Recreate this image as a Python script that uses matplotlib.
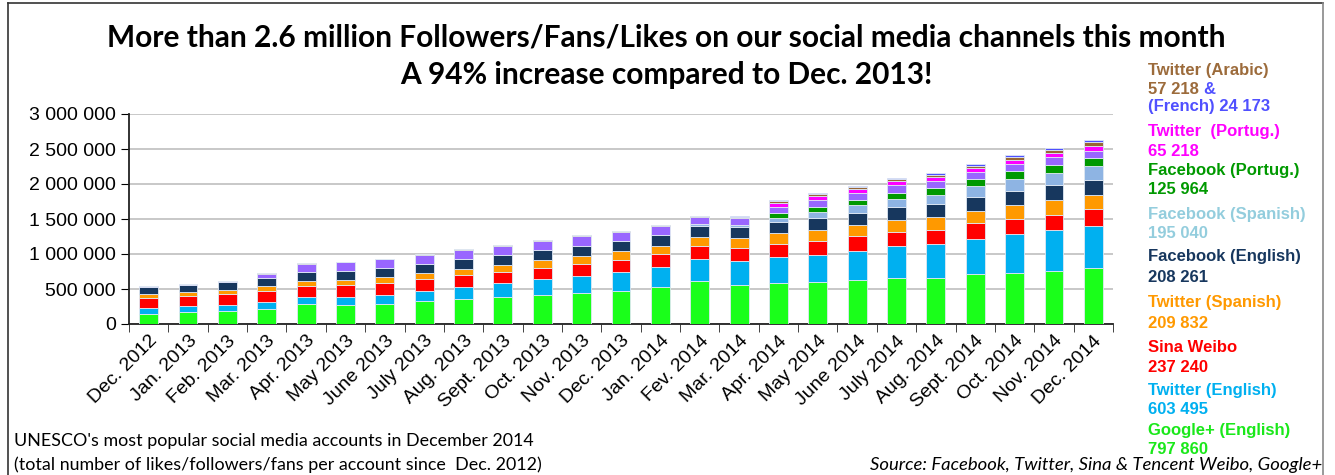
import numpy as np
import matplotlib
matplotlib.use("Agg")
import matplotlib.pyplot as plt
from matplotlib.lines import Line2D
from matplotlib.ticker import FuncFormatter, FixedLocator

# -------------------------------------------------
# Data (followers/fans/likes)
# -------------------------------------------------
months = ["Dec. 2012", "Jan. 2013", "Feb. 2013", "Mar. 2013", "Apr. 2013", "May 2013",
          "June 2013", "July 2013", "Aug. 2013", "Sept. 2013", "Oct. 2013", "Nov. 2013",
          "Dec. 2013", "Jan. 2014", "Fev. 2014", "Mar. 2014", "Apr. 2014", "May 2014",
          "June 2014", "July 2014", "Aug. 2014", "Sept. 2014", "Oct. 2014", "Nov. 2014",
          "Dec. 2014"]

google_plus = [148000, 167000, 190000, 219000, 281000, 271000, 290000, 329000, 362000, 390000,
               414000, 443000, 471000, 524000, 614000, 552000, 581000, 600000, 624000, 652000,
               652000, 710000, 733000, 762000, 797860]
twitter_en = [76000, 85000, 86000, 95000, 109000, 115000, 129000, 147000, 167000, 191000,
              224000, 243000, 272000, 290000, 315000, 343000, 371000, 390000, 424000, 462000,
              486000, 504000, 553000, 581000, 603495]
sina_weibo = [147000, 143000, 157000, 162000, 158000, 166000, 171000, 162000, 166000, 167000,
              167000, 171000, 176000, 181000, 190000, 191000, 196000, 200000, 204000, 205000,
              210000, 224000, 219000, 219000, 237240]
twitter_es = [53000, 62000, 57000, 62000, 71000, 77000, 81000, 86000, 86000, 90000,
              109000, 114000, 124000, 124000, 129000, 138000, 152000, 158000, 162000, 167000,
              176000, 181000, 190000, 209000, 209832]
facebook_en = [105000, 105000, 115000, 119000, 119000, 123000, 129000, 133000, 148000, 152000,
               143000, 148000, 143000, 152000, 157000, 157000, 157000, 162000, 172000, 181000,
               186000, 191000, 210000, 210000, 208261]
facebook_es = [0, 0, 0, 0, 0, 0, 0, 0, 0, 0, 0, 0, 0, 0,
               19000, 29000, 57000, 95000, 109000, 123000, 138000, 161000, 166000, 181000, 195040]
facebook_pt = [0, 0, 0, 0, 0, 0, 0, 0, 0, 0, 0, 0, 0, 0, 0, 0,
               67000, 71000, 81000, 86000, 100000, 100000, 119000, 114000, 125964]
tencent_weibo = [14000, 14000, 14000, 62000, 124000, 129000, 129000, 133000, 128000, 129000,
                 133000, 138000, 128000, 129000, 100000, 104000, 90000, 95000, 95000, 105000,
                 100000, 100000, 101000, 105000, 100000]
twitter_pt = [0, 0, 0, 0, 0, 0, 0, 0, 0, 0, 0, 0, 0, 0, 0, 0,
              58000, 53000, 53000, 57000, 47000, 53000, 57000, 62000, 65218]
twitter_ar = [0, 0, 0, 3000, 4000, 5000, 6000, 7000, 8000, 10000, 11000, 12000, 13000, 14000,
              19000, 19000, 23000, 28000, 28000, 29000, 34000, 33000, 38000, 43000, 57218]
twitter_fr = [0, 0, 0, 0, 0, 0, 0, 0, 0, 0, 0, 0, 0, 0,
              5000, 5000, 15000, 19000, 19000, 19000, 23000, 24000, 24000, 24000, 24173]

series = [
    (google_plus, "#1AFF1A"),
    (twitter_en, "#00B0F0"),
    (sina_weibo, "#FF0000"),
    (twitter_es, "#FF9900"),
    (facebook_en, "#17375E"),
    (facebook_es, "#8EB4E3"),
    (facebook_pt, "#009900"),
    (tencent_weibo, "#9966FF"),
    (twitter_pt, "#FF00FF"),
    (twitter_ar, "#996633"),
    (twitter_fr, "#4F4FFF"),
]

W, H = 1335, 475


def fx(x):
    return x / W


def fy(y):
    return 1 - y / H


fig = plt.figure(figsize=(W / 100, H / 100), dpi=100)
fig.patch.set_facecolor("white")

ax = fig.add_axes([fx(129), fy(324), (1113 - 129) / W, (324 - 114) / H])

x = np.arange(len(months))
bottom = np.zeros(len(months))
for vals, col in series:
    vals = np.array(vals, dtype=float)
    ax.bar(x, vals, width=0.48, bottom=bottom, color=col,
           edgecolor="#dfe8f3", linewidth=0.6, zorder=3)
    bottom += vals

ax.set_xlim(-0.5, len(months) - 0.5)
ax.set_ylim(0, 3000000)
ax.set_yticks(np.arange(0, 3000001, 500000))
ax.yaxis.set_major_formatter(FuncFormatter(lambda v, p: f"{int(v):,}".replace(",", " ")))
ax.grid(axis="y", color="#BFBFBF", linewidth=1.2, zorder=0)

ax.set_xticks(x)
ax.set_xticklabels(months, rotation=45, ha="right", rotation_mode="anchor",
                   fontsize=14, family="Liberation Sans")
ax.xaxis.set_minor_locator(FixedLocator(np.arange(-0.5, len(months), 1)))
ax.tick_params(axis="x", which="major", length=0, pad=6)
ax.tick_params(axis="x", which="minor", length=6, color="#222222")
ax.tick_params(axis="y", length=6, labelsize=14)
for lab in ax.get_yticklabels():
    lab.set_family("Liberation Sans")

for s in ["top", "right"]:
    ax.spines[s].set_visible(False)
ax.spines["left"].set_color("#222222")
ax.spines["bottom"].set_color("#222222")
ax.spines["left"].set_linewidth(1.3)
ax.spines["bottom"].set_linewidth(1.3)

# -------------------------------------------------
# Titles and notes
# -------------------------------------------------
fig.text(fx(666), fy(37), "More than 2.6 million Followers/Fans/Likes on our social media channels this month",
         ha="center", va="center", fontsize=21.5, fontweight="bold", family="Lato")
fig.text(fx(666), fy(75), "A 94% increase compared to Dec. 2013!",
         ha="center", va="center", fontsize=21.5, fontweight="bold", family="Lato")

fig.text(fx(14), fy(441), "UNESCO's most popular social media accounts in December 2014",
         ha="left", va="center", fontsize=12.9, family="Lato")
fig.text(fx(14), fy(465), "(total number of likes/followers/fans per account since  Dec. 2012)",
         ha="left", va="center", fontsize=12.9, family="Lato")
fig.text(fx(1322), fy(465), "Source: Facebook, Twitter, Sina & Tencent Weibo, Google+",
         ha="right", va="center", fontsize=13.3, family="Lato", style="italic")

# -------------------------------------------------
# Right-hand labels
# -------------------------------------------------
lx = fx(1148)
labels = [
    (70, "Twitter (Arabic)", "#9C6B3B"),
    (89, "57 218", "#9C6B3B"),
    (107, "(French) 24 173", "#5050FF"),
    (132, "Twitter  (Portug.)", "#FF00FF"),
    (151, "65 218", "#FF00FF"),
    (171, "Facebook (Portug.)", "#009900"),
    (190, "125 964", "#009900"),
    (214, "Facebook (Spanish)", "#93CDDD"),
    (233, "195 040", "#93CDDD"),
    (257, "Facebook (English)", "#17375E"),
    (277, "208 261", "#17375E"),
    (302, "Twitter (Spanish)", "#FF9900"),
    (324, "209 832", "#FF9900"),
    (348, "Sina Weibo", "#FF0000"),
    (368, "237 240", "#FF0000"),
    (391, "Twitter (English)", "#00B0F0"),
    (410, "603 495", "#00B0F0"),
    (431, "Google+ (English)", "#1AE81A"),
    (450, "797 860", "#1AE81A"),
]
for yy, txt, col in labels:
    fig.text(lx, fy(yy), txt, ha="left", va="center", fontsize=12,
             fontweight="bold", color=col, family="Liberation Sans")
fig.text(fx(1203), fy(89), "&", ha="left", va="center", fontsize=12,
         fontweight="bold", color="#5050FF", family="Liberation Sans")

# frame around the picture
fig.add_artist(Line2D([fx(8), fx(8)], [0, fy(3)], color="#333333", lw=1.2))
fig.add_artist(Line2D([fx(8), fx(1323)], [fy(3), fy(3)], color="#333333", lw=1.2))
fig.add_artist(Line2D([fx(1323), fx(1323)], [0, fy(3)], color="#888888", lw=1.2))

plt.savefig("out.png", dpi=100)
